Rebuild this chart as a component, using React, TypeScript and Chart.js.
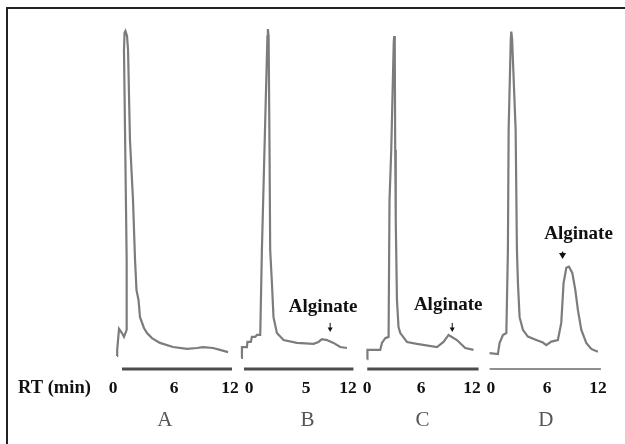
import React, { useEffect, useRef } from "react";
import { Chart, registerables } from "chart.js";
Chart.register(...registerables);

// Four chromatograms laid side by side on one shared time strip (minutes)
const panelNames = ["A", "B", "C", "D"];
const panelOffset = [0, 13.5, 27.2, 40.5];
// printed tick labels and where they sit along each panel's own strip (min)
const tickLabels = [
  ["0", "6", "12"],
  ["0", "5", "12"],
  ["0", "6", "12"],
  ["0", "6", "12"],
];
const tickAt = [
  [-0.43, 6.2, 12.28],
  [0.85, 7.05, 11.6],
  [0, 5.85, 11.4],
  [0.15, 6.24, 11.78],
];
const letterAt = [5.2, 7.2, 6.0, 6.1];
const axisSpan = [
  [0.54, 12.5],
  [0.3, 12.2],
  [0, 12.1],
  [0, 12.1],
];
const axisLevel = -6.6;

// [time (min), signal]
const traceA = [
  [0, -2.5], [0.02, -0.6], [0.22, 6.0], [0.54, 4.7], [0.76, 3.5], [1.05, 5.7],
  [1.05, 27.7], [0.87, 68.6], [0.76, 93.7], [0.82, 99.1], [0.92, 99.7], [1.09, 98.1],
  [1.2, 93.7], [1.41, 65.4], [1.74, 46.5], [1.96, 27.7], [2.12, 18.2], [2.34, 15.1],
  [2.5, 9.7], [2.93, 6.3], [3.26, 4.7], [3.8, 3.1], [4.67, 1.6], [6.09, 0.3],
  [7.61, -0.3], [8.7, 0], [9.35, 0.3], [10.43, 0], [11.2, -0.6], [12.07, -1.3],
];
const traceB = [
  [0, -3.1], [0.08, 0.3], [0.62, 0.3], [0.68, 1.9], [1.05, 1.9], [1.16, 3.5],
  [1.52, 3.5], [1.71, 4.1], [2.07, 4.1], [2.25, 30.8], [2.53, 62.3], [2.85, 98],
  [2.9, 100.3], [2.98, 98], [3.08, 62.3], [3.15, 30.8], [3.34, 20.4], [3.51, 9.7],
  [3.88, 4.7], [4.6, 2.5], [6.05, 1.6], [7.86, 1.3], [8.4, 1.9], [8.77, 2.8],
  [9.32, 2.5], [10.03, 1.6], [10.76, 0.3], [11.49, 0],
];
const traceC = [
  [0, -3.5], [0.02, -0.6], [1.41, -0.6], [1.6, 1.6], [1.96, 3.1], [2.32, 3.5],
  [2.42, 46.5], [2.61, 62.3], [2.88, 96], [2.93, 98.1], [2.99, 96], [3.04, 62.3],
  [3.1, 40], [3.23, 15.1], [3.4, 6.6], [3.59, 4.7], [4.32, 1.9], [5.4, 1.3],
  [7.58, 0.3], [8.29, 1.9], [8.84, 4.1], [9.75, 2.5], [10.65, 0], [11.55, -0.6],
];
const traceD = [
  [0, -1.6], [0.9, -1.9], [1.09, 1.6], [1.45, 4.1], [1.82, 4.7], [1.99, 30.8],
  [2.07, 68.6], [2.3, 97], [2.36, 99.5], [2.45, 97], [2.83, 68.6], [2.97, 30.8],
  [3.08, 20.4], [3.26, 9.7], [3.62, 5.7], [4.16, 3.6], [5.08, 2.5], [5.79, 1.7],
  [6.16, 0.9], [6.71, 2.0], [7.42, 2.5], [7.79, 7.9], [8.04, 20.4], [8.34, 25.2],
  [8.62, 25.6], [8.99, 23.6], [9.32, 18.2], [9.6, 11.9], [9.97, 5.7], [10.51, 1.6],
  [11.05, -0.3], [11.77, -1.2],
];
const traces = [traceA, traceB, traceC, traceD];

// "Alginate" annotations: panel index, label anchor, arrow time, arrow top / tip signal
const alginatePanel = [1, 2, 3];
const alginateLabelT = [8.91, 8.8, 9.67];
const alginateLabelV = [12.9, 13.5, 35.8];
const alginateArrowT = [9.67, 9.24, 7.93];
const alginateArrowTop = [7.9, 7.9, 30.3];
const alginateArrowTip = [5.0, 5.0, 28.0];

const SERIF = "'Liberation Serif', 'Times New Roman', serif";

const annotationPlugin = {
  id: "alginateNotes",
  afterDatasetsDraw(chart: any) {
    const { ctx } = chart;
    const xs = chart.scales.x;
    const ys = chart.scales.y;
    ctx.save();
    ctx.fillStyle = "#111";
    ctx.strokeStyle = "#111";
    ctx.font = `bold 19px ${SERIF}`;
    ctx.textAlign = "center";
    ctx.textBaseline = "middle";
    alginatePanel.forEach((p, i) => {
      const off = panelOffset[p];
      ctx.fillText("Alginate", xs.getPixelForValue(off + alginateLabelT[i]), ys.getPixelForValue(alginateLabelV[i]));
      const ax = xs.getPixelForValue(off + alginateArrowT[i]);
      const top = ys.getPixelForValue(alginateArrowTop[i]);
      const tip = ys.getPixelForValue(alginateArrowTip[i]);
      const big = p === 3;
      const hw = big ? 3.5 : 2.5;
      const hl = big ? 6 : 4.5;
      ctx.lineWidth = big ? 1.5 : 1;
      ctx.beginPath();
      ctx.moveTo(ax, top);
      ctx.lineTo(ax, tip - hl + 1);
      ctx.stroke();
      ctx.beginPath();
      ctx.moveTo(ax - hw, tip - hl);
      ctx.lineTo(ax + hw, tip - hl);
      ctx.lineTo(ax, tip);
      ctx.closePath();
      ctx.fill();
    });
    // axis caption in the tick row
    const s = chart.scales.x;
    ctx.font = `bold 18.5px ${SERIF}`;
    ctx.textAlign = "left";
    ctx.fillText("RT (min)", 18, s.top + s.options.ticks.padding + 10.8);
    ctx.restore();
  },
};

export default function App() {
  const ref = useRef<HTMLCanvasElement>(null);
  useEffect(() => {
    if (!ref.current) return;
    const flatTicks: number[] = [];
    const flatLabels: string[] = [];
    panelOffset.forEach((off, p) => {
      tickAt[p].forEach((v, j) => {
        flatTicks.push(off + v);
        flatLabels.push(tickLabels[p][j]);
      });
    });
    const letterTicks = panelOffset.map((off, p) => off + letterAt[p]);

    const datasets: any[] = [];
    traces.forEach((tr, p) => {
      datasets.push({
        label: panelNames[p],
        data: tr.map(([t, v]) => ({ x: panelOffset[p] + t, y: v })),
        borderColor: "#7c7c7c",
        borderWidth: 2.2,
        pointRadius: 0,
        tension: 0,
        fill: false,
      });
      datasets.push({
        label: panelNames[p] + " axis",
        data: axisSpan[p].map((t) => ({ x: panelOffset[p] + t, y: axisLevel })),
        borderColor: p === 3 ? "#6a6a6a" : "#4d4d4d",
        borderWidth: p === 3 ? 1.5 : 2.8,
        pointRadius: 0,
        fill: false,
      });
    });

    const chart = new Chart(ref.current, {
      type: "line",
      data: { datasets },
      options: {
        animation: false,
        responsive: false,
        devicePixelRatio: 1,
        layout: { padding: { left: 0, right: 0, top: 0, bottom: 5.8 } },
        plugins: { legend: { display: false }, tooltip: { enabled: false } },
        scales: {
          x: {
            type: "linear",
            position: "bottom",
            min: -117 / 9.2,
            max: 508 / 9.2,
            grid: { display: false, drawTicks: false },
            border: { display: false },
            afterBuildTicks: (scale: any) => {
              scale.ticks = flatTicks.map((v) => ({ value: v }));
            },
            ticks: {
              autoSkip: false,
              maxRotation: 0,
              padding: 3,
              color: "#111",
              font: { family: SERIF, size: 17.5, weight: "bold", lineHeight: 1.234 },
              callback: (_v: any, i: number) => flatLabels[i],
            },
          },
          x2: {
            type: "linear",
            position: "bottom",
            min: -117 / 9.2,
            max: 508 / 9.2,
            grid: { display: false, drawTicks: false },
            border: { display: false },
            afterBuildTicks: (scale: any) => {
              scale.ticks = letterTicks.map((v) => ({ value: v }));
            },
            ticks: {
              autoSkip: false,
              maxRotation: 0,
              padding: 5.6,
              color: "#555",
              font: { family: SERIF, size: 21 },
              callback: (_v: any, i: number) => panelNames[i],
            },
          },
          y: {
            type: "linear",
            display: false,
            min: -8.24,
            max: 109.43,
          },
        },
      },
      plugins: [annotationPlugin],
    });
    return () => chart.destroy();
  }, []);

  return (
    <div style={{ position: "absolute", left: 0, top: 0, width: 625, height: 444, background: "#fff", overflow: "hidden" }}>
      <canvas ref={ref} width={625} height={444} style={{ position: "absolute", left: 0, top: 0 }} />
      <div
        style={{
          position: "absolute",
          left: 6,
          top: 7,
          width: 640,
          height: 460,
          borderLeft: "2px solid #222",
          borderTop: "2px solid #222",
          boxSizing: "border-box",
          pointerEvents: "none",
        }}
      />
    </div>
  );
}
